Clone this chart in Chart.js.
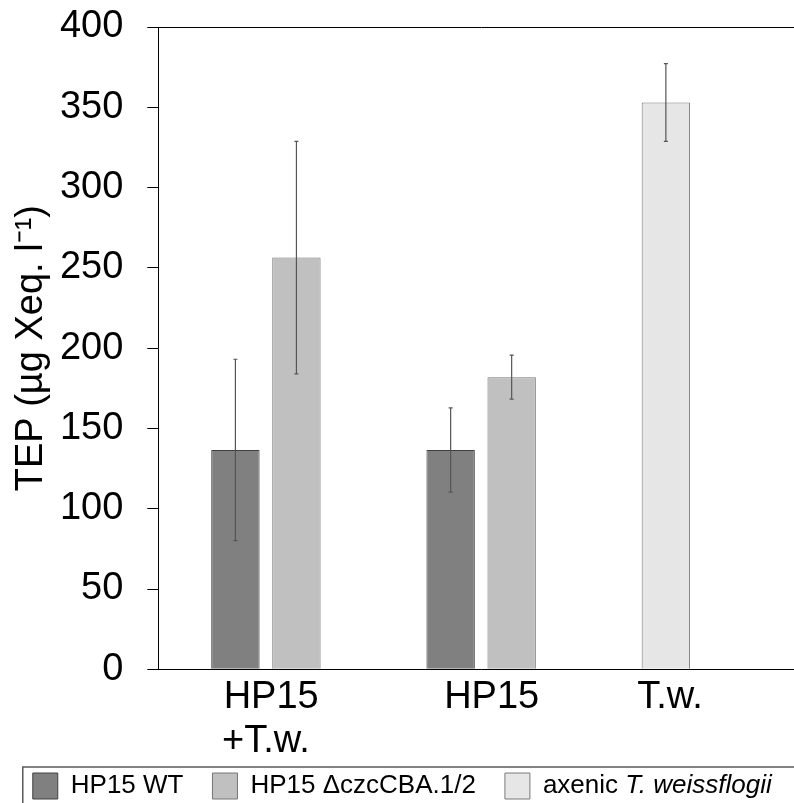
<!DOCTYPE html>
<html lang="en">
<head>
  <meta charset="UTF-8">
  <title>TEP</title>
  <script src="https://cdn.jsdelivr.net/npm/chart.js"></script>
  <style>
    html, body { margin: 0; padding: 0; background: #fff; overflow: hidden; }
    #wrap { width: 804px; height: 809px; }
    canvas { display: block; }
  </style>
</head>
<body>
  <div id="wrap"><canvas id="tepChart" width="804" height="809"></canvas></div>

  <script>
    // Data (mean +/- error)
    const categories = [['HP15', '+T.w.'], 'HP15', 'T.w.'];
    const seriesNames = ['HP15 WT', 'HP15 \u0394czcCBA.1/2', 'axenic T. weissflogii'];
    const wtMean = [136.6, 136.6, null];
    const wtErr = [56.5, 26.2, null];
    const mutMean = [256.4, 181.9, null];
    const mutErr = [72.4, 13.7, null];
    const axenicMean = [null, null, 353.0];
    const axenicErr = [null, null, 24.2];
    const yMin = 0, yMax = 400, yStep = 50;

    const FONT = '"Liberation Sans", Arial, sans-serif';
    const legendSize = 26;
    const legendBox = 25;
    // the original labels sit a bit off the category centre (padded with spaces in the sheet)
    // >0 = leading spaces, <0 = trailing spaces
    const labelPad = [[1, 0], 2, -5];
    const padText = (s, n) => (n >= 0 ? ' '.repeat(n) + s : s + ' '.repeat(-n));

    Chart.defaults.font.family = FONT;
    Chart.defaults.color = '#000';

    // error bars drawn from the y scale
    const errorBars = {
      id: 'errorBars',
      afterDatasetsDraw(chart) {
        const { ctx } = chart;
        const y = chart.scales.y;
        ctx.save();
        ctx.strokeStyle = '#555555';
        ctx.lineWidth = 1.2;
        chart.data.datasets.forEach((ds, i) => {
          const meta = chart.getDatasetMeta(i);
          ds.data.forEach((v, j) => {
            const e = ds.errors[j];
            if (v == null || e == null) return;
            const x = meta.data[j].x;
            const top = y.getPixelForValue(v + e);
            const bot = y.getPixelForValue(v - e);
            ctx.beginPath();
            ctx.moveTo(x, top); ctx.lineTo(x, bot);
            ctx.moveTo(x - 2, top); ctx.lineTo(x + 2, top);
            ctx.moveTo(x - 2, bot); ctx.lineTo(x + 2, bot);
            ctx.stroke();
          });
        });
        ctx.restore();
      }
    };

    // frame around the legend + the italic species name
    const legendFrame = {
      id: 'legendFrame',
      afterDraw(chart) {
        const boxes = chart.legend.legendHitBoxes;
        if (!boxes || !boxes.length) return;
        const { ctx } = chart;
        const first = boxes[0];
        ctx.save();
        ctx.strokeStyle = '#595959';
        ctx.lineWidth = 1.5;
        const left = first.left - 10;
        // right and bottom edges fall outside the cropped picture
        ctx.strokeRect(left, first.top - 6, chart.width + 10 - left, chart.height);

        const hb = boxes[2];
        const plain = 'axenic ';
        const ital = seriesNames[2].slice(plain.length);
        let x = hb.left + legendBox + legendSize / 2;
        const yy = hb.top + hb.height / 2;
        ctx.fillStyle = '#000';
        ctx.textBaseline = 'middle';
        ctx.textAlign = 'left';
        ctx.font = legendSize + 'px ' + FONT;
        ctx.fillText(plain, x, yy);
        x += ctx.measureText(plain).width;
        ctx.font = 'italic ' + legendSize + 'px ' + FONT;
        ctx.fillText(ital, x, yy);
        ctx.restore();
      }
    };

    const ctx = document.getElementById('tepChart').getContext('2d');
    new Chart(ctx, {
      type: 'bar',
      data: {
        labels: categories,
        datasets: [
          {
            label: seriesNames[0], data: wtMean, errors: wtErr, stack: 'left',
            backgroundColor: '#808080', borderColor: '#404040', borderWidth: 1
          },
          {
            label: seriesNames[1], data: mutMean, errors: mutErr, stack: 'right',
            backgroundColor: '#c0c0c0', borderColor: '#767676', borderWidth: 1
          },
          {
            label: seriesNames[2], data: axenicMean, errors: axenicErr, stack: 'left',
            backgroundColor: '#e6e6e6', borderColor: '#7a7a7a', borderWidth: 1
          }
        ]
      },
      options: {
        responsive: false,
        animation: false,
        categoryPercentage: 0.567,
        barPercentage: 0.793,
        layout: { padding: { top: 27, left: 0, right: 0, bottom: 0 } },
        plugins: {
          tooltip: { enabled: false },
          legend: {
            position: 'bottom',
            labels: {
              font: { size: legendSize },
              boxWidth: legendBox,
              boxHeight: 26,
              padding: 29,
              color: '#000',
              generateLabels(chart) {
                const items = Chart.defaults.plugins.legend.labels.generateLabels(chart);
                items[2].fontColor = 'rgba(0,0,0,0)';
                return items;
              }
            }
          }
        },
        scales: {
          x: {
            grid: { display: false, drawTicks: false },
            border: { display: true, color: '#000', width: 1 },
            ticks: {
              color: '#000',
              font: { size: 38, lineHeight: 1.17 },
              padding: 6,
              maxRotation: 0,
              autoSkip: false,
              callback: (v, i) => {
                const lab = categories[i], pad = labelPad[i];
                return Array.isArray(lab) ? lab.map((s, k) => padText(s, pad[k])) : padText(lab, pad);
              }
            },
            afterFit: (s) => {
              s.height = 74.7;
              // let the second label line run into the legend strip, as in the original
              s._computeLabelArea = () => undefined;
            }
          },
          y: {
            min: yMin,
            max: yMax,
            stacked: false,
            ticks: { stepSize: yStep, color: '#000', font: { size: 38 }, padding: 24 },
            grid: {
              color: (c) => (c.tick && c.tick.value === yMax ? '#000' : 'rgba(0,0,0,0)'),
              tickColor: '#000',
              tickLength: 11,
              lineWidth: 1
            },
            border: { display: true, color: '#000', width: 1 },
            title: {
              display: true,
              text: 'TEP (\u00b5g Xeq. l\u207b\u00b9)',
              color: '#000',
              font: { size: 38 },
              padding: { top: 9, bottom: 0 }
            },
            afterFit: (s) => {
              s.width = 158.3;
              // tick padding would otherwise push the plot top down
              s.paddingTop = 0;
              s.paddingBottom = 0;
            }
          }
        }
      },
      plugins: [errorBars, legendFrame]
    });
  </script>
</body>
</html>
